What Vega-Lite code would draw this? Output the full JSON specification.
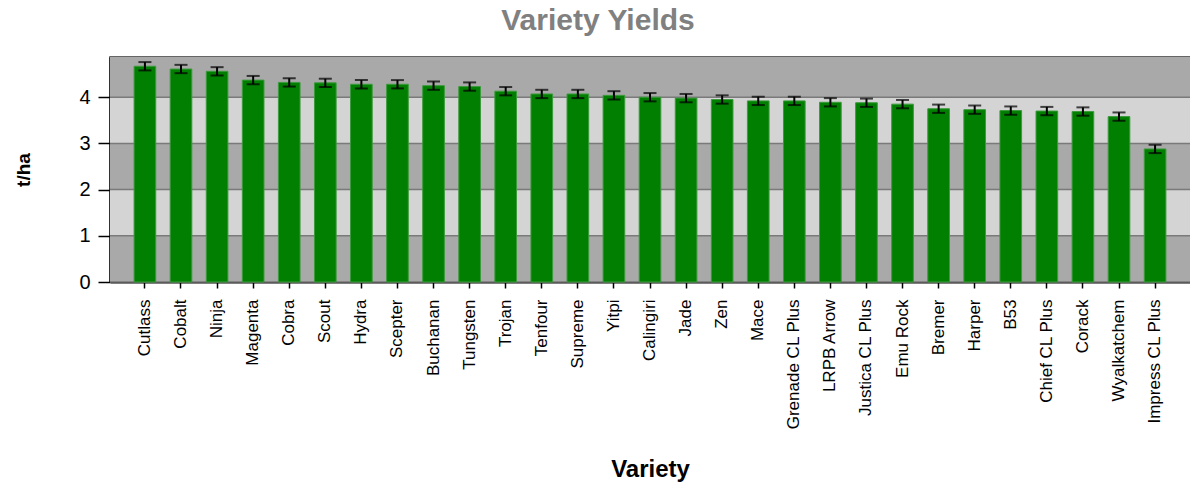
{
  "$schema": "https://vega.github.io/schema/vega-lite/v6.json",
  "autosize": "none",
  "width": 1080,
  "height": 225,
  "padding": {"left": 110, "top": 57, "right": 0, "bottom": 204},
  "background": "white",
  "config": {
    "view": {"stroke": "#333333", "strokeWidth": 1.5},
    "font": "Liberation Sans"
  },
  "title": {
    "text": "Variety Yields",
    "fontSize": 30,
    "fontWeight": "bold",
    "color": "#808080",
    "font": "Liberation Sans",
    "anchor": "middle",
    "dx": -52,
    "offset": 21
  },
  "datasets": {
    "yields": [
      {"variety": "Cutlass", "yield": 4.67, "lo": 4.58, "hi": 4.76},
      {"variety": "Cobalt", "yield": 4.61, "lo": 4.52, "hi": 4.70},
      {"variety": "Ninja", "yield": 4.56, "lo": 4.47, "hi": 4.65},
      {"variety": "Magenta", "yield": 4.37, "lo": 4.28, "hi": 4.46},
      {"variety": "Cobra", "yield": 4.32, "lo": 4.23, "hi": 4.41},
      {"variety": "Scout", "yield": 4.31, "lo": 4.22, "hi": 4.40},
      {"variety": "Hydra", "yield": 4.28, "lo": 4.19, "hi": 4.37},
      {"variety": "Scepter", "yield": 4.28, "lo": 4.19, "hi": 4.37},
      {"variety": "Buchanan", "yield": 4.25, "lo": 4.16, "hi": 4.34},
      {"variety": "Tungsten", "yield": 4.23, "lo": 4.14, "hi": 4.32},
      {"variety": "Trojan", "yield": 4.13, "lo": 4.04, "hi": 4.22},
      {"variety": "Tenfour", "yield": 4.07, "lo": 3.98, "hi": 4.16},
      {"variety": "Supreme", "yield": 4.07, "lo": 3.98, "hi": 4.16},
      {"variety": "Yitpi", "yield": 4.04, "lo": 3.95, "hi": 4.13},
      {"variety": "Calingiri", "yield": 4.00, "lo": 3.91, "hi": 4.09},
      {"variety": "Jade", "yield": 3.98, "lo": 3.89, "hi": 4.07},
      {"variety": "Zen", "yield": 3.95, "lo": 3.86, "hi": 4.04},
      {"variety": "Mace", "yield": 3.92, "lo": 3.83, "hi": 4.01},
      {"variety": "Grenade CL Plus", "yield": 3.92, "lo": 3.83, "hi": 4.01},
      {"variety": "LRPB Arrow", "yield": 3.89, "lo": 3.80, "hi": 3.98},
      {"variety": "Justica CL Plus", "yield": 3.88, "lo": 3.79, "hi": 3.97},
      {"variety": "Emu Rock", "yield": 3.85, "lo": 3.76, "hi": 3.94},
      {"variety": "Bremer", "yield": 3.75, "lo": 3.66, "hi": 3.84},
      {"variety": "Harper", "yield": 3.73, "lo": 3.64, "hi": 3.82},
      {"variety": "B53", "yield": 3.71, "lo": 3.62, "hi": 3.80},
      {"variety": "Chief CL Plus", "yield": 3.70, "lo": 3.61, "hi": 3.79},
      {"variety": "Corack", "yield": 3.69, "lo": 3.60, "hi": 3.78},
      {"variety": "Wyalkatchem", "yield": 3.58, "lo": 3.49, "hi": 3.67},
      {"variety": "Impress CL Plus", "yield": 2.88, "lo": 2.79, "hi": 2.97}
    ],
    "bands": [
      {"lo": 0, "hi": 1, "shade": "dark"},
      {"lo": 1, "hi": 2, "shade": "light"},
      {"lo": 2, "hi": 3, "shade": "dark"},
      {"lo": 3, "hi": 4, "shade": "light"},
      {"lo": 4, "hi": 4.87, "shade": "dark"}
    ]
  },
  "layer": [
    {
      "data": {"name": "bands"},
      "mark": {"type": "rect"},
      "encoding": {
        "y": {"field": "lo", "type": "quantitative"},
        "y2": {"field": "hi"},
        "color": {
          "field": "shade",
          "type": "nominal",
          "scale": {"domain": ["dark", "light"], "range": ["#a9a9a9", "#d4d4d4"]},
          "legend": null
        }
      }
    },
    {
      "data": {"name": "bands"},
      "mark": {"type": "rule", "color": "#7a7a7a", "strokeWidth": 1.5},
      "encoding": {
        "y": {"field": "lo", "type": "quantitative"}
      }
    },
    {
      "data": {"name": "yields"},
      "mark": {"type": "bar", "color": "#007f00", "stroke": "#3c9a3c", "strokeWidth": 1},
      "encoding": {
        "x": {
          "field": "variety",
          "type": "nominal",
          "sort": null,
          "scale": {"paddingInner": 0.4, "paddingOuter": 0.668},
          "axis": {
            "title": "Variety",
            "titleFontSize": 24,
            "titleFontWeight": "bold",
            "titleColor": "black",
            "titleBaseline": "middle",
            "titleY": 187,
            "labelAngle": -90,
            "labelAlign": "right",
            "labelBaseline": "middle",
            "labelFontSize": 17,
            "labelColor": "black",
            "labelPadding": 11,
            "tickColor": "black",
            "tickSize": 6,
            "tickWidth": 1.5,
            "domainColor": "black",
            "domainWidth": 2
          }
        },
        "y": {
          "field": "yield",
          "type": "quantitative",
          "scale": {"domain": [0, 4.87], "nice": false, "zero": true},
          "axis": {
            "title": "t/ha",
            "titleFontSize": 19,
            "titleFontWeight": "bold",
            "titleColor": "black",
            "titleAngle": -90,
            "titleBaseline": "middle",
            "titleX": -87,
            "values": [0, 1, 2, 3, 4],
            "grid": false,
            "labelFontSize": 20,
            "labelColor": "black",
            "labelPadding": 8,
            "tickColor": "black",
            "tickSize": 12,
            "tickWidth": 1.5,
            "domainColor": "black",
            "domainWidth": 2
          }
        }
      }
    },
    {
      "data": {"name": "yields"},
      "mark": {"type": "rule", "color": "black", "strokeWidth": 2},
      "encoding": {
        "x": {"field": "variety", "type": "nominal", "sort": null},
        "y": {"field": "lo", "type": "quantitative"},
        "y2": {"field": "hi"}
      }
    },
    {
      "data": {"name": "yields"},
      "mark": {"type": "tick", "color": "black", "size": 13, "thickness": 2},
      "encoding": {
        "x": {"field": "variety", "type": "nominal", "sort": null},
        "y": {"field": "lo", "type": "quantitative"}
      }
    },
    {
      "data": {"name": "yields"},
      "mark": {"type": "tick", "color": "black", "size": 13, "thickness": 2},
      "encoding": {
        "x": {"field": "variety", "type": "nominal", "sort": null},
        "y": {"field": "hi", "type": "quantitative"}
      }
    }
  ]
}
